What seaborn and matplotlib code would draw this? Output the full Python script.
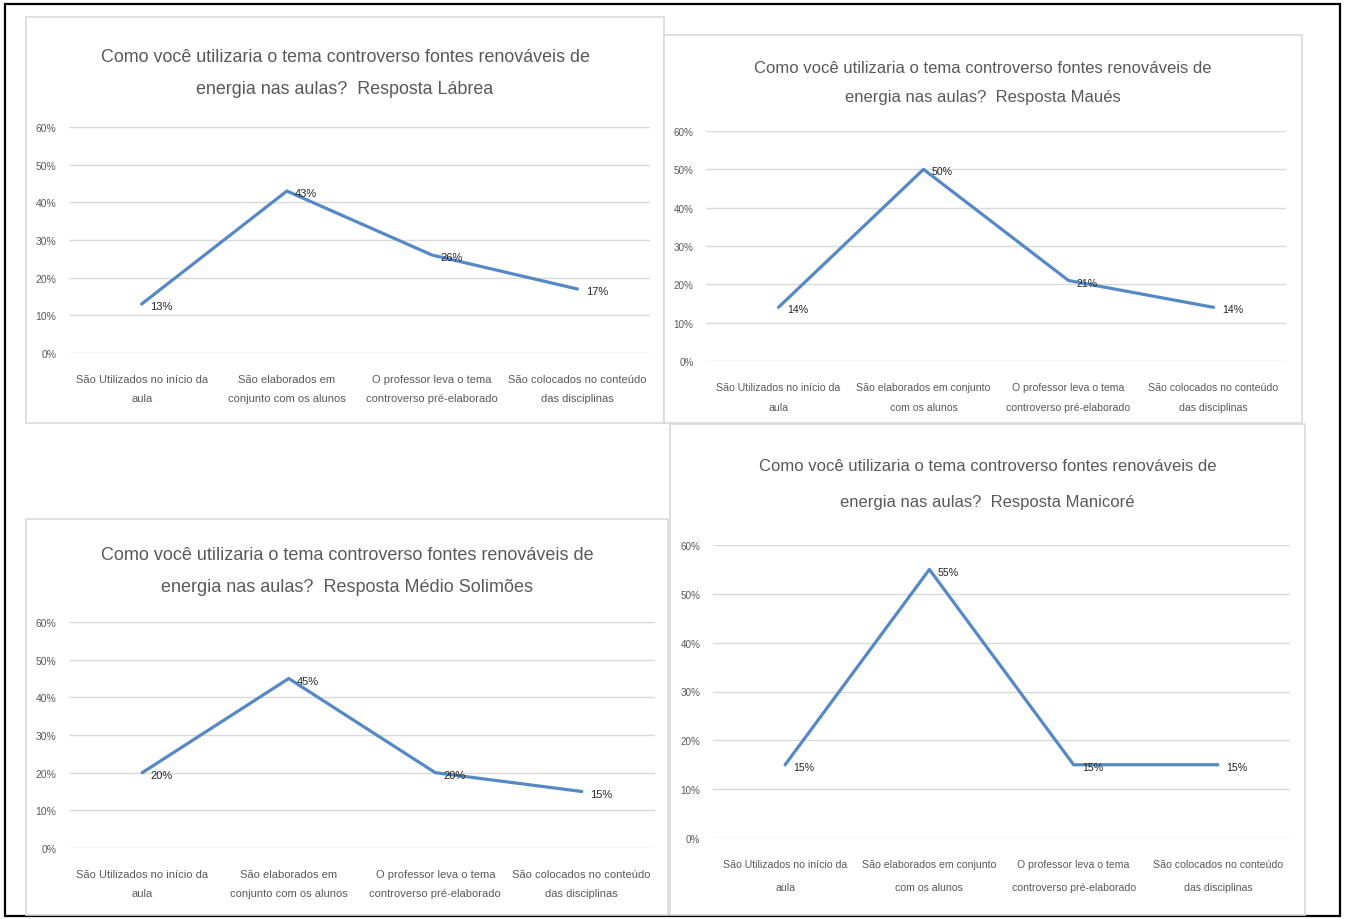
import matplotlib
matplotlib.use("Agg")
import matplotlib.pyplot as plt
from matplotlib.patches import Rectangle
from matplotlib.ticker import PercentFormatter
import numpy as np
import pandas as pd
import seaborn as sns

# --- data ---
labels_a = ["São Utilizados no início da\naula",
            "São elaborados em\nconjunto com os alunos",
            "O professor leva o tema\ncontroverso pré-elaborado",
            "São colocados no conteúdo\ndas disciplinas"]
labels_b = ["São Utilizados no início da\naula",
            "São elaborados em conjunto\ncom os alunos",
            "O professor leva o tema\ncontroverso pré-elaborado",
            "São colocados no conteúdo\ndas disciplinas"]

labrea = [13, 43, 26, 17]
maues = [14, 50, 21, 14]
medio_solimoes = [20, 45, 20, 15]
manicore = [15, 55, 15, 15]

title_base = "Como você utilizaria o tema controverso fontes renováveis de\nenergia nas aulas?  Resposta "
places = ["Lábrea", "Maués", "Médio Solimões", "Manicoré"]

sns.set_theme(style="white")
plt.rcParams["font.family"] = ["Liberation Sans", "DejaVu Sans"]

W, H = 1346, 920
LINE = "#5589c6"
GRID = "#d9d9d9"
TXT = "#595959"

fig = plt.figure(figsize=(W / 100, H / 100), dpi=100)

# outer black frame
fig.add_artist(Rectangle((5 / W, 1 - 917 / H), 1335 / W, 912 / H, transform=fig.transFigure,
                         facecolor="none", edgecolor="black", lw=1.6, zorder=-2))


def panel(frame, plot, title_y, title_gap, title_size, tick_size, tick_gap, values, labels, place):
    x0, y0, x1, y1 = frame
    fig.add_artist(Rectangle((x0 / W, 1 - y1 / H), (x1 - x0) / W, (y1 - y0) / H,
                             transform=fig.transFigure, facecolor="white",
                             edgecolor=GRID, lw=1.2, zorder=-1))
    px0, py0, px1, py1 = plot
    ax = fig.add_axes([px0 / W, 1 - py1 / H, (px1 - px0) / W, (py1 - py0) / H])
    ax.set_facecolor("none")

    df = pd.DataFrame({"pos": np.arange(len(values)), "val": values})
    sns.lineplot(data=df, x="pos", y="val", ax=ax, color=LINE, lw=2.3)
    for i, v in enumerate(values):
        ax.annotate(f"{v}%", (i, v), xytext=(6, -1.5), textcoords="offset points",
                    ha="left", va="center", fontsize=tick_size, color="#262626")

    ax.set_xlim(-0.5, len(values) - 0.5)
    ax.set_ylim(0, 60)
    ax.set_yticks(range(0, 61, 10))
    ax.yaxis.set_major_formatter(PercentFormatter(decimals=0))
    ax.set_xticks(range(len(values)))
    ax.set_xticklabels(labels, linespacing=tick_gap)
    ax.tick_params(axis="x", length=0, pad=15, labelsize=tick_size, labelcolor=TXT)
    ax.tick_params(axis="y", length=0, pad=9, labelsize=tick_size - 0.5, labelcolor=TXT)
    ax.grid(axis="y", color=GRID, lw=1)
    ax.grid(axis="x", visible=False)
    for s in ax.spines.values():
        s.set_visible(False)
    ax.set_xlabel("")
    ax.set_ylabel("")

    cx = (x0 + x1) / 2
    fig.text(cx / W, 1 - title_y / H, title_base + place, ha="center", va="center",
             fontsize=title_size, color=TXT, linespacing=title_gap)


panel((26, 18, 664, 424), (69, 128, 650, 354), 73.5, 2.1, 12.9, 8, 2.2, labrea, labels_a, places[0])
panel((664, 36, 1302, 424), (706, 132, 1286, 362), 83, 2.2, 12, 7.6, 2.3, maues, labels_b, places[1])
panel((26, 520, 668, 916), (69, 623, 655, 849), 571.5, 2.1, 13, 8, 2.2, medio_solimoes, labels_a, places[2])
panel((670, 425, 1305, 916), (713, 546, 1290, 839), 485, 2.75, 12, 7.6, 2.7, manicore, labels_b, places[3])

fig.savefig("out.png", dpi=100)
